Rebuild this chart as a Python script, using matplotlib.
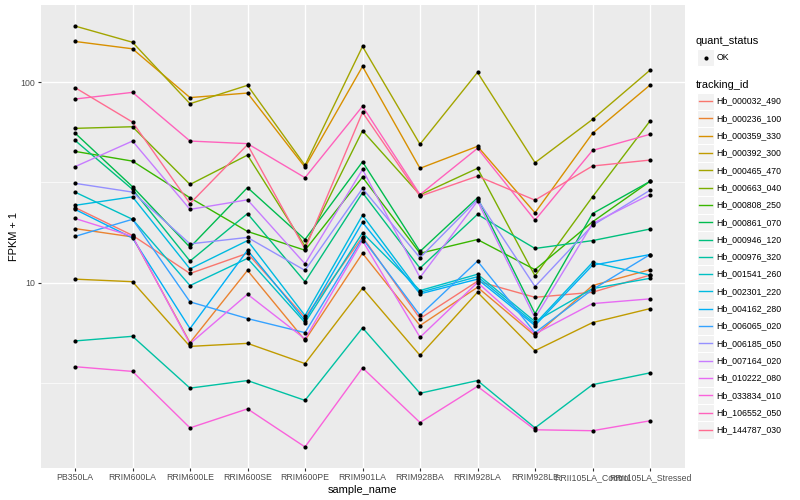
import numpy as np
import matplotlib
matplotlib.use("Agg")
import matplotlib.pyplot as plt
from matplotlib.lines import Line2D
from matplotlib.patches import Rectangle
from matplotlib.ticker import FixedLocator, NullFormatter

plt.rcParams['font.family'] = ['Liberation Sans', 'DejaVu Sans']

samples = ["PB350LA", "RRIM600LA", "RRIM600LE", "RRIM600SE", "RRIM600PE", "RRIM901LA",
           "RRIM928BA", "RRIM928LA", "RRIM928LE", "RRII105LA_Control", "RRII105LA_Stressed"]

tracking_ids = ["Hb_000032_490", "Hb_000236_100", "Hb_000359_330", "Hb_000392_300",
                "Hb_000465_470", "Hb_000663_040", "Hb_000808_250", "Hb_000861_070",
                "Hb_000946_120", "Hb_000976_320", "Hb_001541_260", "Hb_002301_220",
                "Hb_004162_280", "Hb_006065_020", "Hb_006185_050", "Hb_007164_020",
                "Hb_010222_080", "Hb_033834_010", "Hb_106552_050", "Hb_144787_030"]

colors = ["#F8766D", "#EA8331", "#D89000", "#C09B00", "#A3A500", "#7CAE00", "#39B600",
          "#00BB4E", "#00BF7D", "#00C1A3", "#00BFC4", "#00BAE0", "#00B0F6", "#35A2FF",
          "#9590FF", "#C77CFF", "#E76BF3", "#FA62DB", "#FF62BC", "#FF6C91"]

# FPKM + 1 values, one list per gene (order of samples above)
hb_000032_490 = [23.7, 17.2, 11.1, 14.0, 6.68, 16.9, 6.61, 10.15, 8.44, 8.94, 10.9]
hb_000236_100 = [18.6, 16.9, 5.01, 11.5, 5.15, 14.0, 6.10, 9.47, 5.43, 9.66, 11.6]
hb_000359_330 = [160, 147, 83.9, 88.4, 37.7, 120, 37.2, 47.9, 22.3, 55.6, 96.9]
hb_000392_300 = [10.4, 10.1, 4.80, 4.97, 3.94, 9.37, 4.33, 8.94, 4.57, 6.31, 7.41]
hb_000465_470 = [191, 158.5, 78.2, 96.6, 38.5, 151, 49.1, 112, 39.7, 65.3, 115]
hb_000663_040 = [58.9, 60.0, 30.9, 43.3, 15.2, 57.3, 27.4, 37.2, 10.8, 26.8, 64.1]
hb_000808_250 = [45.2, 40.4, 26.5, 18.0, 14.5, 33.6, 14.0, 16.4, 11.6, 20.1, 32.0]
hb_000861_070 = [55.8, 30.1, 15.0, 29.8, 16.4, 40.1, 14.3, 26.5, 7.00, 22.1, 32.0]
hb_000946_120 = [51.3, 29.2, 12.8, 22.1, 10.1, 28.1, 11.8, 21.9, 14.8, 16.2, 18.5]
hb_000976_320 = [5.11, 5.39, 2.97, 3.24, 2.58, 5.94, 2.80, 3.24, 1.88, 3.09, 3.54]
hb_001541_260 = [28.3, 20.7, 9.66, 13.2, 6.31, 17.7, 9.12, 11.0, 6.38, 9.33, 10.5]
hb_002301_220 = [24.3, 26.8, 11.7, 16.2, 6.84, 21.7, 8.94, 10.7, 6.22, 12.6, 10.9]
hb_004162_280 = [23.2, 16.7, 5.89, 14.5, 6.46, 20.0, 8.78, 10.4, 6.10, 12.2, 13.8]
hb_006065_020 = [17.0, 20.7, 8.01, 6.61, 5.62, 16.6, 6.86, 12.8, 5.62, 9.23, 13.8]
hb_006185_050 = [31.3, 28.3, 15.6, 16.8, 11.5, 29.5, 13.3, 26.0, 9.55, 19.3, 28.9]
hb_007164_020 = [37.9, 50.9, 23.2, 25.9, 12.4, 36.7, 10.6, 25.5, 6.66, 19.7, 27.5]
hb_010222_080 = [20.9, 17.0, 4.95, 8.74, 5.23, 16.2, 5.33, 10.0, 5.54, 7.85, 8.29]
hb_033834_010 = [3.80, 3.60, 1.88, 2.34, 1.51, 3.75, 2.00, 3.03, 1.84, 1.82, 2.04]
hb_106552_050 = [82.5, 89.1, 50.9, 49.4, 33.4, 75.9, 27.5, 46.8, 20.5, 45.7, 55.0]
hb_144787_030 = [94.1, 63.3, 24.8, 48.8, 14.7, 70.8, 27.0, 34.0, 25.8, 38.2, 40.9]

series = [hb_000032_490, hb_000236_100, hb_000359_330, hb_000392_300, hb_000465_470,
          hb_000663_040, hb_000808_250, hb_000861_070, hb_000946_120, hb_000976_320,
          hb_001541_260, hb_002301_220, hb_004162_280, hb_006065_020, hb_006185_050,
          hb_007164_020, hb_010222_080, hb_033834_010, hb_106552_050, hb_144787_030]

W, H = 800, 500
fig = plt.figure(figsize=(8, 5), dpi=100)
fig.patch.set_facecolor("white")

L, R, T, B = 40.5, 684.5, 5, 468
ax = fig.add_axes([L / W, 1 - B / H, (R - L) / W, (B - T) / H])
ax.set_facecolor("#EBEBEB")

x = np.arange(len(samples))
for vals, col in zip(series, colors):
    ax.plot(x, vals, color=col, lw=1.0, zorder=3, solid_capstyle="butt")
for vals in series:
    ax.plot(x, vals, ls="none", marker="o", ms=3.0, mfc="black", mec="black", mew=0, zorder=4)

ax.set_yscale("log")
allv = np.log10(np.concatenate([np.asarray(s, float) for s in series]))
lo, hi = allv.min(), allv.max()
pad = 0.05 * (hi - lo)
ax.set_ylim(10 ** (lo - pad), 10 ** (hi + pad))
ax.set_xlim(-0.6, len(samples) - 1 + 0.6)

ax.yaxis.set_major_locator(FixedLocator([10, 100]))
ax.set_yticklabels(["10", "100"])
ax.yaxis.set_minor_locator(FixedLocator([10 ** 0.5, 10 ** 1.5]))
ax.yaxis.set_minor_formatter(NullFormatter())
ax.set_xticks(x)
ax.set_xticklabels(samples)

ax.grid(True, which="major", color="white", lw=1.0, zorder=0)
ax.grid(True, which="minor", axis="y", color="white", lw=0.5, zorder=0)
ax.set_axisbelow(True)
for s in ax.spines.values():
    s.set_visible(False)
ax.tick_params(which="major", direction="out", length=2.0, width=0.8, color="#333333",
               labelsize=6.3, labelcolor="#4D4D4D", pad=1.6)
ax.tick_params(which="minor", length=0)

ax.set_xlabel("sample_name", fontsize=7.9, color="black", labelpad=2.5)
ax.set_ylabel("FPKM + 1", fontsize=7.9, color="black", labelpad=1.5)

# ---- legends (drawn in figure pixel coordinates) ----
def fx(px):
    return px / W

def fy(py):
    return 1 - py / H

key_w, key_h = 17.3, 17.3
kx = 697
fig.text(fx(kx - 1), fy(40.5), "quant_status", fontsize=7.9, va="center", ha="left")
fig.add_artist(Rectangle((fx(kx), fy(49 + key_h)), key_w / W, key_h / H,
                         transform=fig.transFigure, facecolor="#F2F2F2", edgecolor="white", lw=0.8))
fig.add_artist(Line2D([fx(kx + key_w / 2)], [fy(49 + key_h / 2)], transform=fig.transFigure,
                      marker="o", ms=3.0, mfc="black", mec="black", mew=0, ls="none"))
fig.text(fx(716.5), fy(49 + key_h / 2), "OK", fontsize=6.3, va="center", ha="left")

fig.text(fx(kx - 1), fy(84.5), "tracking_id", fontsize=7.9, va="center", ha="left")
top = 92.5
for i, (tid, col) in enumerate(zip(tracking_ids, colors)):
    y0 = top + i * key_h
    fig.add_artist(Rectangle((fx(kx), fy(y0 + key_h)), key_w / W, key_h / H,
                             transform=fig.transFigure, facecolor="#F2F2F2", edgecolor="white", lw=0.8))
    fig.add_artist(Line2D([fx(kx + 2), fx(kx + key_w - 2)], [fy(y0 + key_h / 2)] * 2,
                          transform=fig.transFigure, color=col, lw=1.0))
    fig.text(fx(716.5), fy(y0 + key_h / 2), tid, fontsize=6.3, va="center", ha="left")

fig.savefig("out.png", dpi=100)
